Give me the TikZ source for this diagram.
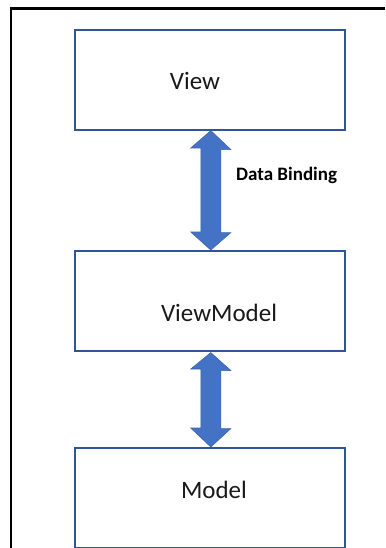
\documentclass[tikz,border=0pt]{standalone}
\usepackage{fontspec}
\setmainfont{Carlito}
\usetikzlibrary{calc}
\definecolor{boxline}{HTML}{2F5597}
\definecolor{arrowfill}{HTML}{4472C4}
\definecolor{arrowline}{HTML}{3A64AE}
\tikzset{
  layerbox/.style={draw=boxline, line width=1.6pt, fill=white, minimum width=270pt, minimum height=100pt, inner sep=0pt, anchor=north west},
  layertext/.style={font=\fontsize{25}{30}\selectfont, inner sep=0pt, text=black!90},
  bindtext/.style={font=\bfseries\fontsize{19}{23}\selectfont, inner sep=0pt, text=black},
  dblarrow/.style={fill=arrowfill, draw=arrowline, line width=0.6pt, line join=miter},
  frameline/.style={draw=black, line width=2.5pt}
}
\begin{document}
\begin{tikzpicture}[x=1pt,y=-1pt]
\useasboundingbox (0,0) rectangle (385,548);
% frame
\coordinate (fbl) at (11,548);
\coordinate (ftl) at (11,8.5);
\coordinate (ftr) at (385,8.5);
\draw[frameline] (fbl) -- (ftl) -- (ftr);
% boxes
\node[layerbox] (view) at (74,29) {};
\node[layerbox] (vm) at (74,250) {};
\node[layerbox] (model) at (74,447) {};
% texts
\node[layertext] (tview) at (195,81) {View};
\node[layertext] (tvm) at (219,313) {ViewModel};
\node[layertext] (tmodel) at (214,490) {Model};
\node[bindtext, anchor=west] (tbind) at (236,175) {Data Binding};
% arrows
\path[dblarrow]
  ($(view.south)+(1,0)$) -- ++(20,19) -- ++(-10,0) -- ++(0,83) -- ++(10,0)
  -- ($(vm.north)+(1,0)$) -- ++(-20,-18) -- ++(10,0) -- ++(0,-84) -- ++(-10,0) -- cycle;
\path[dblarrow]
  ($(vm.south)+(1,1)$) -- ++(20,18) -- ++(-10,0) -- ++(0,58) -- ++(10,0)
  -- ($(model.north)+(1,0)$) -- ++(-20,-19) -- ++(10,0) -- ++(0,-59) -- ++(-10,0) -- cycle;
\end{tikzpicture}
\end{document}
